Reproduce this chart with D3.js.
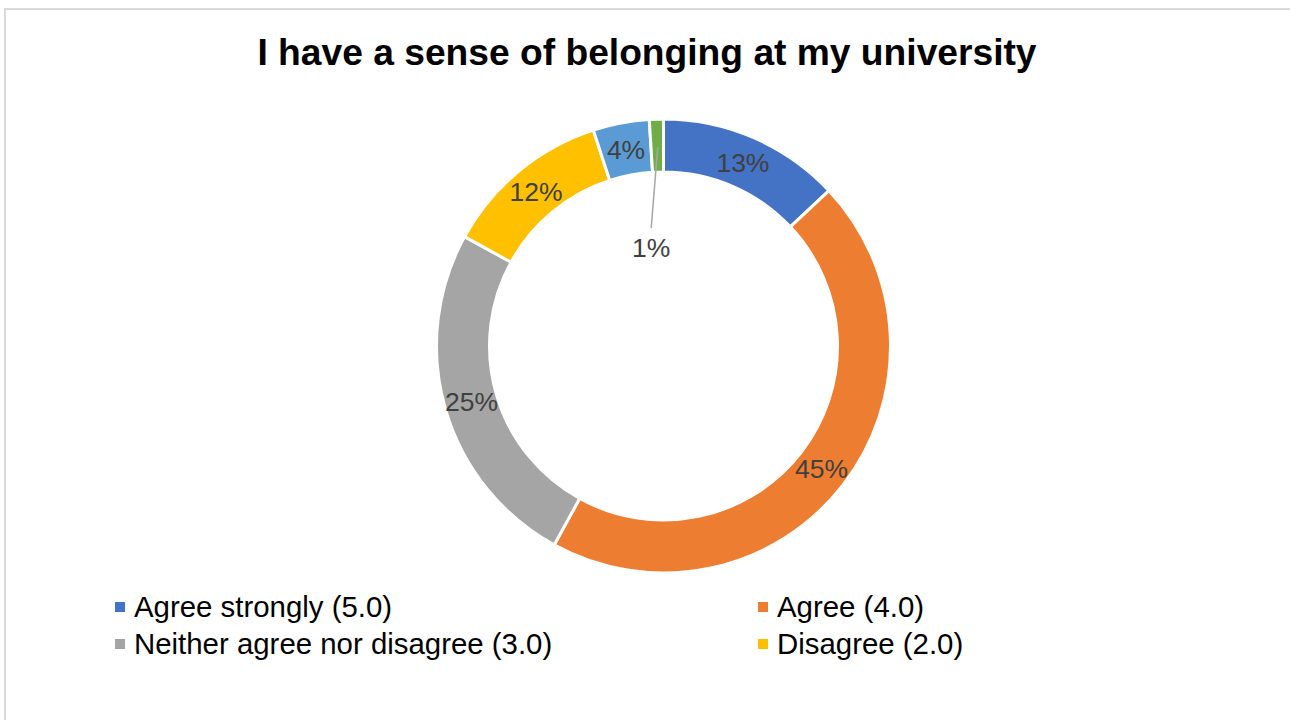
<!DOCTYPE html>
<html><head><meta charset="utf-8">
<script src="https://cdn.jsdelivr.net/npm/d3@7"></script>
<style>html,body{margin:0;padding:0;background:#fff;overflow:hidden}</style>
</head><body>
<svg id="c" width="1290" height="720"></svg>
<script>
const categories = ["Agree strongly (5.0)","Agree (4.0)","Neither agree nor disagree (3.0)","Disagree (2.0)","Disagree strongly (1.0)","Not applicable"];
const values = [13,45,25,12,4,1];
const colors = ["#4472C4","#ED7D31","#A5A5A5","#FFC000","#5B9BD5","#70AD47"];
const legendShown = 4;
const title = "I have a sense of belonging at my university";

const svg = d3.select("#c");
const font = "'Liberation Sans', Arial, sans-serif";
svg.append("rect").attr("x",5).attr("y",9).attr("width",1300).attr("height",730)
  .attr("fill","#fff").attr("stroke","#d9d9d9").attr("stroke-width",2);

svg.append("text").attr("x",647).attr("y",65).attr("text-anchor","middle")
  .attr("font-family",font).attr("font-weight","bold").attr("font-size",37.2)
  .attr("fill","#000").text(title);

const cx=663.5, cy=346, R=227, r=174;
const pie = d3.pie().sort(null).value(d=>d)(values);
const arc = d3.arc().innerRadius(r).outerRadius(R);
const g = svg.append("g").attr("transform",`translate(${cx},${cy})`);
g.selectAll("path").data(pie).join("path").attr("d",arc)
  .attr("fill",(d,i)=>colors[i]).attr("stroke","#fff").attr("stroke-width",3);

const labelArc = d3.arc().innerRadius(200).outerRadius(200);
const fmt = d=>d3.format(".0%")(d/d3.sum(values));
pie.forEach((d,i)=>{
  let [x,y] = labelArc.centroid(d);
  if (values[i] < 2) {
    // leader line to label placed inside the hole
    const lx = x - 6, ly = y + 102;
    g.append("line").attr("x1",x+0.5).attr("y1",y+1).attr("x2",x-6).attr("y2",y+82)
      .attr("stroke","#a6a6a6").attr("stroke-width",1.5);
    x = lx; y = ly;
  }
  g.append("text").attr("x",x).attr("y",y).attr("dy","0.35em").attr("text-anchor","middle")
    .attr("font-family",font).attr("font-size",26.5).attr("fill","#404040").text(fmt(values[i]));
});

const legX=[115,758], legY=[617,654];
categories.slice(0,legendShown).forEach((c,i)=>{
  const col=i%2, row=Math.floor(i/2);
  svg.append("rect").attr("x",legX[col]).attr("y",legY[row]-15).attr("width",10).attr("height",10).attr("fill",colors[i]);
  svg.append("text").attr("x",legX[col]+19).attr("y",legY[row])
    .attr("font-family",font).attr("font-size",29.4).attr("fill","#000").text(c);
});
</script>
</body></html>
